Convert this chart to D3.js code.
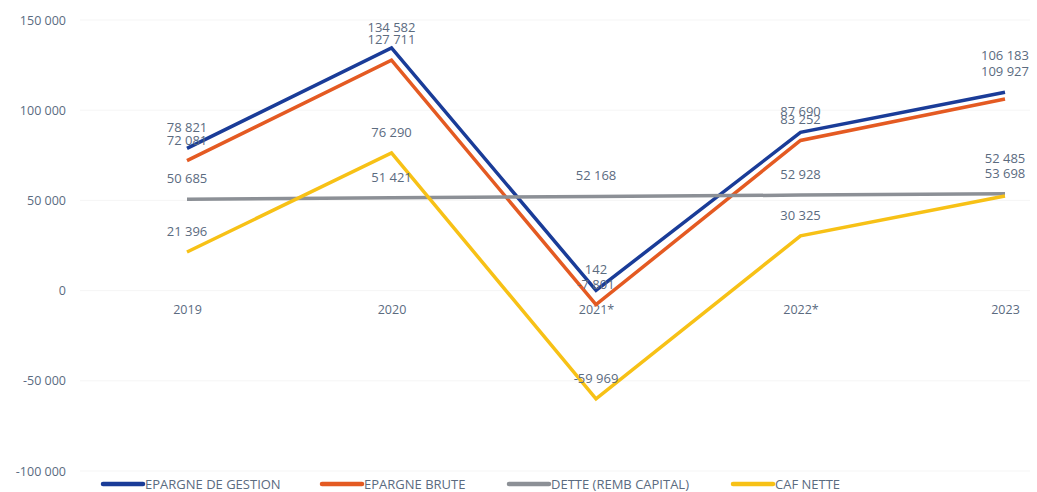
<!DOCTYPE html>
<html>
<head>
<meta charset="utf-8">
<script src="https://cdn.jsdelivr.net/npm/d3@7"></script>
<style>
  body { margin: 0; background: #fff; }
  svg { display: block; font-family: "Open Sans", sans-serif; }
</style>
</head>
<body>
<div class="container"></div>
<script>
const years = ["2019", "2020", "2021*", "2022*", "2023"];
const epargneGestion = [78821, 134582, 142, 87690, 109927];
const epargneBrute = [72081, 127711, -7801, 83252, 106183];
const dette = [50685, 51421, 52168, 52928, 53698];
const cafNette = [21396, 76290, -59969, 30325, 52485];
const yTicks = [-100000, -50000, 0, 50000, 100000, 150000];

const series = [
    { name: "EPARGNE DE GESTION", values: epargneGestion, color: "#1a3c98" },
    { name: "EPARGNE BRUTE", values: epargneBrute, color: "#e45a22" },
    { name: "DETTE (REMB CAPITAL)", values: dette, color: "#8c9096" },
    { name: "CAF NETTE", values: cafNette, color: "#f7c116" }
];

const w = 1037;
const h = 492;

/* french number format, space as thousands separator */
const fr = d3.formatLocale({ decimal: ",", thousands: " ", grouping: [3], currency: ["", " €"], minus: "-" });
const fmt = fr.format(",d");

const xScale = d3.scalePoint()
                 .domain(years)
                 .range([187, 1005]);

const yScale = d3.scaleLinear()
                 .domain([-100000, 150000])
                 .range([471, 20]);

const svg = d3.select(".container")
              .append("svg")
              .attr("width", w)
              .attr("height", h);

// faint gridlines
svg.append("g")
   .selectAll("line")
   .data(yTicks)
   .enter()
   .append("line")
   .attr("x1", 80)
   .attr("x2", 1030)
   .attr("y1", (d) => yScale(d))
   .attr("y2", (d) => yScale(d))
   .attr("stroke", "#f5f5f5")
   .attr("stroke-width", 1);

/* y axis, no domain line */
const yAxis = d3.axisLeft(yScale).tickValues(yTicks).tickFormat(fmt).tickSize(0).tickPadding(0);
const gy = svg.append("g")
   .attr("transform", "translate(66,0)")
   .call(yAxis);
gy.select(".domain").remove();
gy.selectAll("text")
  .attr("fill", "#5b6b7f")
  .style("font-size", "12.5px")
  .style("font-family", "Open Sans, sans-serif");

/* x axis labels sit just under the zero line */
const xAxis = d3.axisBottom(xScale).tickSize(0).tickPadding(0);
const gx = svg.append("g")
   .attr("transform", "translate(0,305)")
   .call(xAxis);
gx.select(".domain").remove();
gx.selectAll("text")
  .attr("fill", "#5b6b7f")
  .style("font-size", "12.5px")
  .style("font-family", "Open Sans, sans-serif");

const line = d3.line()
               .x((d, i) => xScale(years[i]))
               .y((d) => yScale(d));

svg.selectAll(".series")
   .data(series)
   .enter()
   .append("path")
   .attr("class", "series")
   .attr("d", (s) => line(s.values))
   .attr("fill", "none")
   .attr("stroke", (s) => s.color)
   .attr("stroke-width", 3.5)
   .attr("stroke-linejoin", "miter");

// data labels, mostly above the point; a couple moved up to avoid overlap
const labelNudge = { "EPARGNE BRUTE|2023": -23, "CAF NETTE|2023": -17 };
series.forEach((s) => {
    svg.append("g")
       .selectAll("text")
       .data(s.values)
       .enter()
       .append("text")
       .attr("x", (d, i) => xScale(years[i]))
       .attr("y", (d, i) => yScale(d) - 16 + (labelNudge[s.name + "|" + years[i]] || 0))
       .attr("text-anchor", "middle")
       .attr("fill", "#5b6b7f")
       .style("font-size", "13px")
       .text((d) => fmt(d));
});

/* Legend */
const legendX = [103, 322, 509, 733];
const legend = svg.append("g");
series.forEach((s, i) => {
    legend.append("line")
          .attr("x1", legendX[i])
          .attr("x2", legendX[i] + 40)
          .attr("y1", 484)
          .attr("y2", 484)
          .attr("stroke", s.color)
          .attr("stroke-width", 4.5)
          .attr("stroke-linecap", "round");
    legend.append("text")
          .attr("x", legendX[i] + 42)
          .attr("y", 484)
          .attr("dominant-baseline", "central")
          .attr("fill", "#5b6b7f")
          .style("font-size", "13px")
          .text(s.name);
});
</script>
</body>
</html>
